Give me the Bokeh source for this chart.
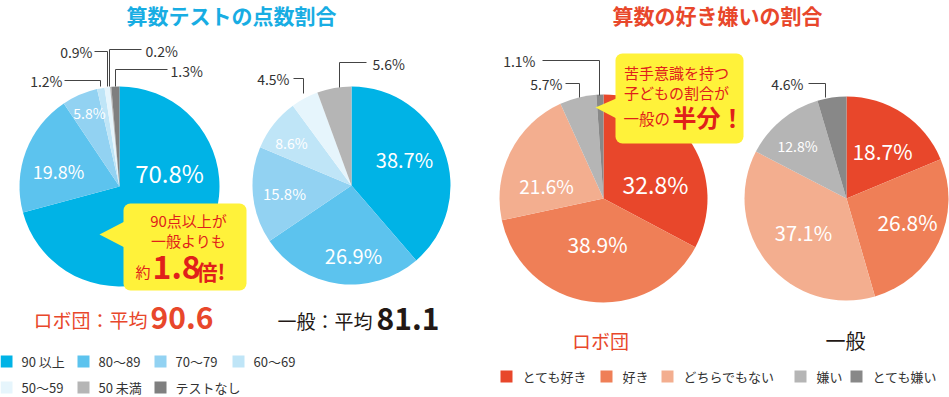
import numpy as np
from bokeh.plotting import figure
from bokeh.models import Range1d, BoxAnnotation
from bokeh.core.properties import value
from bokeh.embed import file_html
from bokeh.resources import INLINE

W, H = 949, 397
FONT = "Noto Sans CJK JP"

# ---------------- data ----------------
test_categories = ["90 以上", "80～89", "70～79", "60～69", "50～59", "50 未満", "テストなし"]
test_colors = ["#00b3e6", "#5cc3ee", "#92d2f2", "#bfe5f7", "#e6f5fc", "#b5b5b5", "#7f7f7f"]
robo_test = [70.8, 19.8, 5.8, 1.2, 0.9, 0.2, 1.3]
general_test = [38.7, 26.9, 15.8, 8.6, 4.5, 5.6, 0.0]

like_categories = ["とても好き", "好き", "どちらでもない", "嫌い", "とても嫌い"]
like_colors = ["#e8472b", "#ef7f57", "#f3ae8f", "#b5b5b5", "#888888"]
robo_like = [32.8, 38.9, 21.6, 5.7, 1.1]
general_like = [18.7, 26.8, 37.1, 12.8, 4.6]

robo_average = 90.6
general_average = 81.1

# ---------------- figure ----------------
p = figure(width=W, height=H, x_range=Range1d(0, W), y_range=Range1d(0, H),
           output_backend="svg", toolbar_location=None, min_border=0)
p.axis.visible = False
p.grid.visible = False
p.outline_line_color = None
p.background_fill_color = "white"
p.border_fill_color = "white"


def Y(y):
    return H - y


def txt(x, y, s, size, color, bold=False, align="center", baseline="middle", level="glyph"):
    p.text(x=[x], y=[Y(y)], text=[s], text_font=value(FONT), text_font_size=f"{size}px",
           text_color=color, text_font_style="bold" if bold else "normal",
           text_align=align, text_baseline=baseline, level=level)


def pie(cx, cy, r, vals, colors, inner, leaders):
    v = np.array(vals, float)
    frac = v / v.sum()
    cum = np.concatenate([[0.0], np.cumsum(frac)])
    start = np.pi / 2 - 2 * np.pi * cum[:-1]
    end = np.pi / 2 - 2 * np.pi * cum[1:]
    keep = v > 0
    n = int(keep.sum())
    p.wedge(x=[cx] * n, y=[Y(cy)] * n, radius=r,
            start_angle=list(start[keep]), end_angle=list(end[keep]), direction="clock",
            fill_color=[c for c, k in zip(colors, keep) if k], line_color=None)
    for i, pos in inner.items():
        dx, dy, size = pos
        txt(cx + dx, cy + dy, f"{vals[i]}%", size, "white")
    for i, spec in leaders.items():
        tx, ty, align, path = spec
        txt(tx, ty, f"{vals[i]}%", 14, "#333333", align=align)
        p.line(x=[q[0] for q in path], y=[Y(q[1]) for q in path], line_color="#444444", line_width=1)


# ---------------- titles ----------------
txt(231, 14, "算数テストの点数割合", 21, "#18ade3", bold=True, baseline="middle")
txt(717, 14, "算数の好き嫌いの割合", 21, "#e8472b", bold=True, baseline="middle")

# ---------------- pies ----------------
pie(119, 186, 100, robo_test, test_colors,
    {0: (50, -14, 24), 1: (-61, -16, 18), 2: (-30, -74, 14)},
    {3: (62, 80, "right", [(64, 80), (100, 80), (100, 86)]),
     4: (92, 51, "right", [(94, 51), (107, 51), (107, 86)]),
     5: (145, 50, "left", [(141, 49), (109, 49), (109, 86)]),
     6: (170, 70, "left", [(167, 69), (115, 69), (115, 86)])})

pie(351, 185, 99, general_test, test_colors,
    {0: (53, -26, 20), 1: (2, 70, 20), 2: (-67, 8, 15), 3: (-60, -43, 14)},
    {4: (289, 78, "right", [(293, 78), (303, 78), (303, 93)]),
     5: (372, 63, "left", [(366, 62), (339, 62), (339, 87)])})

pie(603, 198, 104, robo_like, like_colors,
    {0: (52, -15, 23), 1: (-6, 45, 21), 2: (-57, -13, 19)},
    {3: (562, 83, "right", [(565, 83), (579, 83), (579, 97)]),
     4: (535, 60, "right", [(542, 60), (599, 60), (599, 95)])})

pie(846, 198, 102, general_like, like_colors,
    {0: (36, -48, 21), 1: (61, 23, 21), 2: (-43, 34, 20), 3: (-49, -53, 14)},
    {4: (803, 83, "right", [(808, 83), (825, 83), (825, 97)])})

# ---------------- callouts ----------------
YEL = "#fff23a"
RED = "#e0201a"
p.patch(x=[99, 126, 126], y=[Y(234), Y(220), Y(248)], fill_color=YEL, line_color=None)
p.add_layout(BoxAnnotation(left=123, right=246, top=Y(203), bottom=Y(290), fill_color=YEL,
                           fill_alpha=1, line_color=None, border_radius=7))
txt(188, 220, "90点以上が", 15, RED, level="overlay")
txt(188, 240, "一般よりも", 15, RED, level="overlay")
txt(135, 271, "約", 15, RED, align="left", level="overlay")
txt(152, 266, "1.8", 32, RED, bold=True, align="left", level="overlay")
txt(196, 270, "倍!", 21, RED, bold=True, align="left", level="overlay")

p.patch(x=[595, 618, 618], y=[Y(107), Y(97), Y(119)], fill_color=YEL, line_color=None)
p.add_layout(BoxAnnotation(left=615, right=743, top=Y(53), bottom=Y(143), fill_color=YEL,
                           fill_alpha=1, line_color=None, border_radius=7))
txt(676, 72, "苦手意識を持つ", 15, RED, level="overlay")
txt(676, 92, "子どもの割合が", 15, RED, level="overlay")
txt(623, 117, "一般の", 15.5, RED, align="left", level="overlay")
txt(672, 116, "半分！", 24, RED, bold=True, align="left", level="overlay")

# ---------------- averages / group labels ----------------
txt(147, 319, "ロボ団：平均", 19, "#e8472b", align="right")
txt(150, 317, f"{robo_average}", 30, "#e8472b", bold=True, align="left")
txt(372, 320, "一般：平均", 19, "#231815", align="right")
txt(376, 318, f"{general_average}", 30, "#231815", bold=True, align="left")

txt(600, 340, "ロボ団", 19, "#e8472b")
txt(845, 340, "一般", 20, "#231815")

# ---------------- legends ----------------
leg1_x = [0, 77, 154, 232, 0, 77, 154]
leg1_y = [361, 361, 361, 361, 387, 387, 387]
p.rect(x=[x + 6 for x in leg1_x], y=[Y(y) for y in leg1_y], width=12, height=12,
       fill_color=test_colors, line_color=None)
for cat, x, y in zip(test_categories, leg1_x, leg1_y):
    txt(x + 21, y, cat, 13, "#333333", align="left")

leg2_x = [500, 600, 661, 794, 850]
p.rect(x=[x + 6 for x in leg2_x], y=[Y(376)] * len(leg2_x), width=12, height=12,
       fill_color=like_colors, line_color=None)
for cat, x in zip(like_categories, leg2_x):
    txt(x + 22, 376, cat, 13, "#333333", align="left")

html = file_html(p, INLINE)
html = html.replace("</head>", "<style>html,body{margin:0;padding:0;overflow:hidden;}</style></head>", 1)
open("out.html", "w").write(html)
